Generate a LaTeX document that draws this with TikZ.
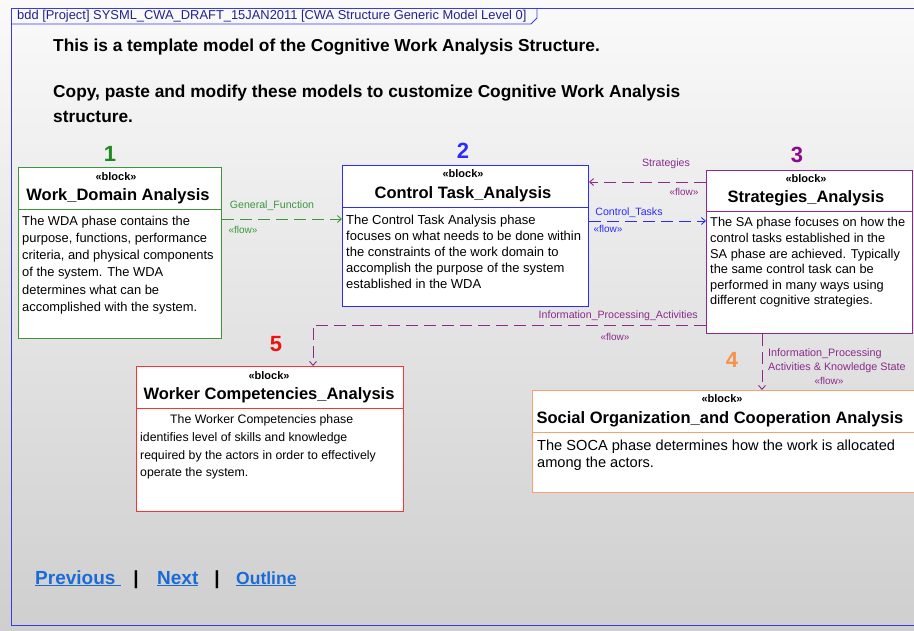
\documentclass[tikz,border=0pt]{standalone}
\usepackage{fontspec}
\setmainfont{Liberation Sans}
\usetikzlibrary{arrows.meta}
\definecolor{frameblue}{HTML}{3A3AE8}
\definecolor{cgreen}{HTML}{3C963C}
\definecolor{cgreenD}{HTML}{1E8A1E}
\definecolor{cblue}{HTML}{2B2BFF}
\definecolor{cpurple}{HTML}{8B2A8B}
\definecolor{cpurpleD}{HTML}{8B0A8B}
\definecolor{cred}{HTML}{FF3030}
\definecolor{credD}{HTML}{EE1111}
\definecolor{corange}{HTML}{F8A070}
\definecolor{corangeD}{HTML}{F7924A}
\definecolor{linkblue}{HTML}{1A6AD8}
\newcommand{\fs}[2]{\fontsize{#1}{#2}\selectfont}
\tikzset{
  blockbox/.style={draw=#1, line width=1pt, fill=white, anchor=north west, inner sep=0pt},
  kw/.style={font=\fs{11}{13}\bfseries, inner sep=0pt},
  btitle/.style={font=\fs{16.5}{19}\bfseries, inner sep=0pt},
  body/.style={anchor=north west, align=left, inner sep=0pt},
  flowline/.style={draw=#1, line width=0.9pt, dash pattern=on 12pt off 6pt, -{Straight Barb[length=4pt,width=7pt]}},
  flab/.style={text=#1, font=\fs{10.6}{14}, inner sep=0pt},
  fst/.style={text=#1, font=\fs{10}{12}, inner sep=0pt},
  num/.style={text=#1, font=\fs{22}{24}\bfseries, inner sep=0pt},
  link/.style={text=linkblue, font=\fs{19}{22}\bfseries, inner sep=0pt, anchor=base west},
  hdr/.style={anchor=west, inner sep=0pt, font=\fs{17.3}{19}\bfseries},
}
\begin{document}
\begin{tikzpicture}[x=1pt, y=-1pt]
\useasboundingbox (0,0) rectangle (914,630);
\shade[top color=white!98!black, bottom color=black!19] (0,0) rectangle (914,630);

% frame
\draw[frameblue, line width=1pt] (914,8) -- (11,8) -- (11,625) -- (914,625);
\draw[frameblue, line width=0.8pt] (11,24) -- (531,24) -- (537,18) -- (537,8);
\node[anchor=west, inner sep=0pt, font=\fs{12.9}{14}, text=frameblue!60!black] (tab) at (17,16.5) {bdd [Project] SYSML\_CWA\_DRAFT\_15JAN2011 [CWA Structure Generic Model Level 0]};

% header
\node[hdr] (h1) at (53,47) {This is a template model of the Cognitive Work Analysis Structure.};
\node[hdr] (h2) at (53,93) {Copy, paste and modify these models to customize Cognitive Work Analysis};
\node[hdr] (h3) at (53,117) {structure.};

% blocks
\node[blockbox=cgreen, minimum width=203pt, minimum height=171pt] (wda) at (18,167) {};
\draw[cgreen, line width=1pt] (wda.west |- 0,209) -- (wda.east |- 0,209);
\node[kw] (wdak) at (116,177) {«block»};
\node[btitle] (wdat) at (118,196) {Work\_Domain Analysis};
\node[body, font=\fs{12.9}{17.3}] (wdab) at (22,215.5) {The WDA phase contains the\\purpose, functions, performance\\criteria, and physical components\\of the system. The WDA\\determines what can be\\accomplished with the system.};
\node[num=cgreenD] (n1) at (110,154) {1};

\node[blockbox=cblue, minimum width=246pt, minimum height=141pt] (cta) at (342,165) {};
\draw[cblue, line width=1pt] (cta.west |- 0,207) -- (cta.east |- 0,207);
\node[kw] (ctak) at (463,174) {«block»};
\node[btitle] (ctat) at (463,194) {Control Task\_Analysis};
\node[body, font=\fs{13}{16}] (ctab) at (346,214.5) {The Control Task Analysis phase\\focuses on what needs to be done within\\the constraints of the work domain to\\accomplish the purpose of the system\\established in the WDA};
\node[num=cblue] (n2) at (463,151) {2};

\node[blockbox=cpurple, minimum width=206pt, minimum height=163pt] (sa) at (706,170) {};
\draw[cpurple, line width=1pt] (sa.west |- 0,211) -- (sa.east |- 0,211);
\node[kw] (sak) at (806,179) {«block»};
\node[btitle] (sat) at (806,198) {Strategies\_Analysis};
\node[body, font=\fs{12.8}{15.6}] (sab) at (710,217.5) {The SA phase focuses on how the\\control tasks established in the\\SA phase are achieved. Typically\\the same control task can be\\performed in many ways using\\different cognitive strategies.};
\node[num=cpurpleD] (n3) at (797,155) {3};

\node[blockbox=cred, minimum width=267pt, minimum height=145pt] (wca) at (136,366) {};
\draw[cred, line width=1pt] (wca.west |- 0,408) -- (wca.east |- 0,408);
\node[kw] (wcak) at (269,376) {«block»};
\node[btitle] (wcat) at (269,395) {Worker Competencies\_Analysis};
\node[body, font=\fs{12.3}{17.7}] (wcab) at (140,414.5) {\hspace*{30pt}The Worker Competencies phase\\identifies level of skills and knowledge\\required by the actors in order to effectively\\operate the system.};
\node[num=credD] (n5) at (276,344) {5};

\node[blockbox=corange, minimum width=382pt, minimum height=102pt] (soca) at (532,390) {};
\draw[corange, line width=1pt] (soca.west |- 0,432) -- (soca.east |- 0,432);
\node[kw] (socak) at (722,399) {«block»};
\node[btitle] (socat) at (720,419) {Social Organization\_and Cooperation Analysis};
\node[body, font=\fs{14.6}{17}] (socab) at (537,439.5) {The SOCA phase determines how the work is allocated\\among the actors.};
\node[num=corangeD] (n4) at (732,360) {4};

% connectors
\coordinate (gf) at (0,219);
\coordinate (st) at (0,182);
\coordinate (ct) at (0,221);
\coordinate (ipa) at (313,325);
\coordinate (ipk) at (762,0);
\draw[flowline=cgreen] (wda.east |- gf) -- (cta.west |- gf);
\draw[flowline=cpurple] (sa.west |- st) -- (cta.east |- st);
\draw[flowline=cblue] (cta.east |- ct) -- (sa.west |- ct);
\draw[flowline=cpurple] (sa.west |- ipa) -- (ipa) -- (ipa |- wca.north);
\draw[flowline=cpurple] (sa.south -| ipk) -- (soca.north -| ipk);

% connector labels
\node[flab=cgreen] (l1) at (272,206) {General\_Function};
\node[fst=cgreen] (l1f) at (243,230) {«flow»};
\node[flab=cpurple] (l2) at (666,164) {Strategies};
\node[fst=cpurple] (l2f) at (684,192) {«flow»};
\node[flab=cblue] (l3) at (629,213) {Control\_Tasks};
\node[fst=cblue] (l3f) at (608,229) {«flow»};
\node[flab=cpurple, anchor=east] (l4) at (698,316) {Information\_Processing\_Activities};
\node[fst=cpurple] (l4f) at (615,337) {«flow»};
\node[flab=cpurple, anchor=north west, align=left, font=\fs{10.8}{14}] (l5) at (768,348) {Information\_Processing\\Activities \& Knowledge State};
\node[fst=cpurple] (l5f) at (829,381) {«flow»};

% links
\node[link] (prev) at (35,584) {\underline{Previous\ }};
\node[inner sep=0pt, font=\fs{19}{22}\bfseries, anchor=base] (bar1) at (136,584) {|};
\node[link] (next) at (157,584) {\underline{Next}};
\node[inner sep=0pt, font=\fs{19}{22}\bfseries, anchor=base] (bar2) at (217,584) {|};
\node[link, font=\fs{17.5}{22}\bfseries] (outl) at (236,584) {\underline{Outline}};
\end{tikzpicture}
\end{document}
